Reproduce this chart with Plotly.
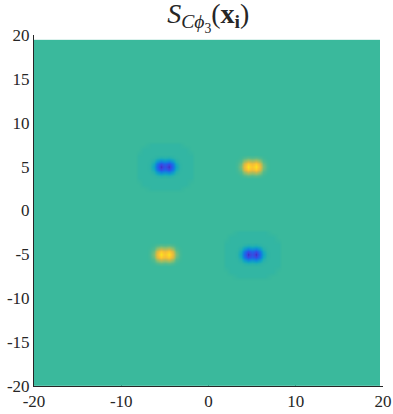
import plotly.graph_objects as go

# blob centres and which ones are negative / positive
neg_x = [-5, 5]
neg_y = [5, -5]
pos_x = [5, -5]
pos_y = [5, -5]

# local grid of one blob (offsets from its centre)
core_dx = [-2.1, -1.7, -1.3, -0.9, -0.5, -0.25, 0, 0.25, 0.5, 0.9, 1.3, 1.7, 2.1]
core_dy = [-1.4, -1.0, -0.6, -0.3, 0, 0.3, 0.6, 1.0, 1.4]

pos_core = [
    [0, 0, 0, 0, 0, 0, 0, 0, 0, 0, 0, 0, 0],
    [0, 0, 0.02, 0.06, 0.10, 0.09, 0.08, 0.09, 0.10, 0.06, 0.02, 0, 0],
    [0, 0.02, 0.08, 0.30, 0.48, 0.43, 0.40, 0.43, 0.48, 0.30, 0.08, 0.02, 0],
    [0, 0.03, 0.15, 0.50, 0.75, 0.68, 0.63, 0.68, 0.75, 0.50, 0.15, 0.03, 0],
    [0, 0.04, 0.20, 0.58, 0.88, 0.78, 0.72, 0.78, 0.88, 0.58, 0.20, 0.04, 0],
    [0, 0.03, 0.15, 0.50, 0.75, 0.68, 0.63, 0.68, 0.75, 0.50, 0.15, 0.03, 0],
    [0, 0.02, 0.08, 0.30, 0.48, 0.43, 0.40, 0.43, 0.48, 0.30, 0.08, 0.02, 0],
    [0, 0, 0.02, 0.06, 0.10, 0.09, 0.08, 0.09, 0.10, 0.06, 0.02, 0, 0],
    [0, 0, 0, 0, 0, 0, 0, 0, 0, 0, 0, 0, 0],
]

neg_core = [
    [-0.04, -0.04, -0.04, -0.04, -0.04, -0.04, -0.04, -0.04, -0.04, -0.04, -0.04, -0.04, -0.04],
    [-0.04, -0.04, -0.05, -0.08, -0.12, -0.11, -0.10, -0.11, -0.12, -0.08, -0.05, -0.04, -0.04],
    [-0.04, -0.05, -0.12, -0.33, -0.50, -0.45, -0.42, -0.45, -0.50, -0.33, -0.12, -0.05, -0.04],
    [-0.04, -0.06, -0.20, -0.52, -0.78, -0.70, -0.65, -0.70, -0.78, -0.52, -0.20, -0.06, -0.04],
    [-0.04, -0.07, -0.25, -0.60, -0.92, -0.82, -0.75, -0.82, -0.92, -0.60, -0.25, -0.07, -0.04],
    [-0.04, -0.06, -0.20, -0.52, -0.78, -0.70, -0.65, -0.70, -0.78, -0.52, -0.20, -0.06, -0.04],
    [-0.04, -0.05, -0.12, -0.33, -0.50, -0.45, -0.42, -0.45, -0.50, -0.33, -0.12, -0.05, -0.04],
    [-0.04, -0.04, -0.05, -0.08, -0.12, -0.11, -0.10, -0.11, -0.12, -0.08, -0.05, -0.04, -0.04],
    [-0.04, -0.04, -0.04, -0.04, -0.04, -0.04, -0.04, -0.04, -0.04, -0.04, -0.04, -0.04, -0.04],
]

# faint octagonal halo around the negative blobs
halo_dx = [-3.4, -3.0, -2.4, -1.5, 0, 1.5, 2.4, 3.0, 3.4]
halo_dy = [-2.9, -2.5, -2.0, -1.2, 0, 1.2, 2.0, 2.5, 2.9]
h = -0.04
halo = [
    [0, 0, 0, 0, 0, 0, 0, 0, 0],
    [0, 0, 0, h, h, h, 0, 0, 0],
    [0, 0, h, h, h, h, h, 0, 0],
    [0, h, h, h, h, h, h, h, 0],
    [0, h, h, h, h, h, h, h, 0],
    [0, h, h, h, h, h, h, h, 0],
    [0, 0, h, h, h, h, h, 0, 0],
    [0, 0, 0, h, h, h, 0, 0, 0],
    [0, 0, 0, 0, 0, 0, 0, 0, 0],
]

# field extent (edges)
bg_x = [-20, 19.65]
bg_y = [-20, 19.45]
bg_z = [[0]]

xtick_vals = [-20, -10, 0, 10, 20]
xtick_text = ["-20", "-10", "0", "10", "20"]
ytick_vals = [-20, -15, -10, -5, 0, 5, 10, 15, 20]
ytick_text = ["-20", "-15", "-10", "-5", "0", "5", "10", "15", "20"]

cscale = [
    [0.00, "rgb(55,35,160)"],
    [0.08, "rgb(65,65,220)"],
    [0.18, "rgb(30,100,235)"],
    [0.30, "rgb(15,140,215)"],
    [0.40, "rgb(20,170,190)"],
    [0.50, "rgb(58,185,156)"],
    [0.62, "rgb(140,190,110)"],
    [0.75, "rgb(215,185,70)"],
    [0.85, "rgb(252,195,50)"],
    [1.00, "rgb(248,250,20)"],
]

common = dict(colorscale=cscale, zmin=-1, zmax=1, showscale=False, hoverinfo="skip")

fig = go.Figure()
fig.add_trace(go.Heatmap(x=bg_x, y=bg_y, z=bg_z, **common))

for cx, cy in zip(neg_x, neg_y):
    fig.add_trace(go.Heatmap(x=[cx + d for d in halo_dx], y=[cy + d for d in halo_dy],
                             z=halo, zsmooth="best", **common))
    fig.add_trace(go.Heatmap(x=[cx + d for d in core_dx], y=[cy + d for d in core_dy],
                             z=neg_core, zsmooth="best", **common))

for cx, cy in zip(pos_x, pos_y):
    fig.add_trace(go.Heatmap(x=[cx + d for d in core_dx], y=[cy + d for d in core_dy],
                             z=pos_core, zsmooth="best", **common))

axis_style = dict(
    range=[-20, 20], showgrid=False, zeroline=False, showline=True,
    linecolor="#262626", linewidth=1, ticks="inside", ticklen=5,
    tickcolor="#262626", layer="below traces", automargin=False,
    ticklabeloverflow="allow",
    tickfont=dict(family="Liberation Serif", size=17, color="#262626"),
)

fig.update_layout(
    width=393, height=414,
    margin=dict(l=34, r=10, t=35, b=28),
    paper_bgcolor="white", plot_bgcolor="white",
    title=dict(
        text="<i>S</i><sub><i>Cϕ</i><sub>3</sub></sub>(<b>x</b><sub><b>i</b></sub>)",
        x=0.53, xanchor="center", yref="container", y=1.0, yanchor="top",
        pad=dict(t=3),
        font=dict(family="Liberation Serif", size=28, color="#262626"),
    ),
    xaxis=dict(tickvals=xtick_vals, ticktext=xtick_text, **axis_style),
    yaxis=dict(tickvals=ytick_vals, ticktext=ytick_text, **axis_style),
)

# drop the page's default 8px body margin so the figure fills the window
fig.write_html("out.html", config={"displayModeBar": False},
               post_script="document.body.style.margin='0px';")
